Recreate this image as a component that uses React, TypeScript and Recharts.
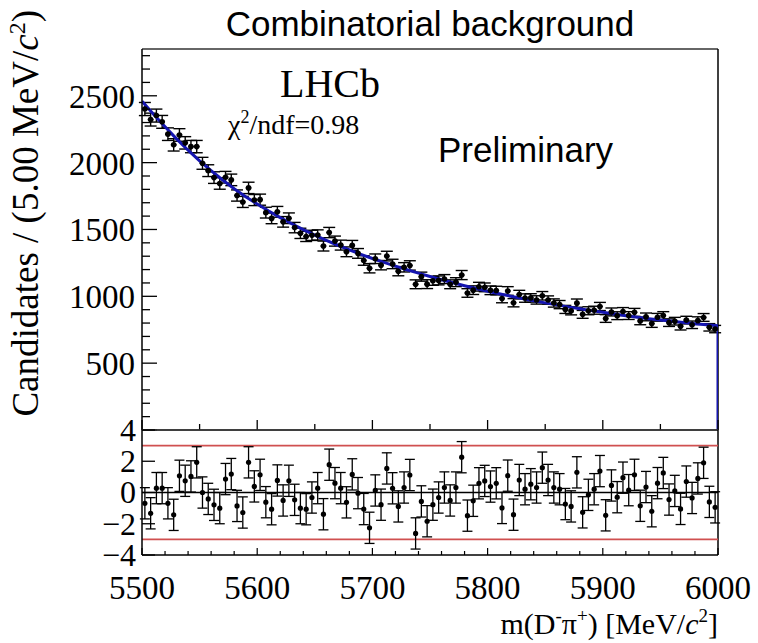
import React from 'react';
import { ComposedChart, Scatter, Line, XAxis, YAxis, ErrorBar, ReferenceLine } from 'recharts';

// ---------------- data ----------------
const BIN_LOW = 5500;
const BIN_WIDTH = 5;

const COUNTS = [
  2401, 2322, 2352, 2305, 2213, 2133, 2207, 2148, 2120, 2120,
  1995, 1940, 1888, 1844, 1891, 1871, 1754, 1706, 1811, 1720,
  1723, 1626, 1583, 1632, 1557, 1584, 1514, 1471, 1448, 1456,
  1459, 1376, 1477, 1413, 1383, 1333, 1381, 1321, 1268, 1210,
  1281, 1233, 1301, 1242, 1188, 1217, 1231, 1090, 1147, 1091,
  1116, 1119, 1129, 1090, 1106, 1159, 1025, 1046, 1072, 1067,
  1045, 1043, 983, 1040, 952, 1013, 987, 988, 973, 1004,
  972, 950, 938, 902, 891, 949, 865, 892, 896, 924,
  834, 883, 855, 886, 856, 880, 816, 846, 796, 843,
  856, 803, 814, 776, 822, 787, 818, 842, 768, 755,
];

const PULLS = [
  -0.69, -1.33, 0.28, 0.28, -0.69, -1.43, 1.07, 0.75, 1.03, 1.93,
  0.0, -0.41, -0.79, -1.0, 0.86, 1.18, -0.86, -1.28, 1.93, 0.39,
  1.13, -0.62, -1.07, 0.77, -0.51, 0.75, -0.47, -1.0, -1.07, -0.32,
  0.28, -1.39, 1.78, 0.6, 0.28, -0.63, 1.16, -0.04, -1.06, -2.26,
  0.13, -0.78, 1.54, 0.27, -0.89, 0.32, 1.12, -2.62, -0.57, -1.84,
  -0.78, -0.32, 0.32, -0.51, 0.32, 2.26, -1.48, -0.53, 0.59, 0.74,
  0.38, 0.59, -0.99, 1.08, -1.42, 0.8, 0.21, 0.53, 0.32, 1.59,
  0.8, 0.32, 0.21, -0.74, -0.89, 1.29, -1.27, -0.15, 0.21, 1.37,
  -1.46, 0.45, -0.3, 0.95, 0.15, 1.13, -0.85, 0.35, -1.2, 0.6,
  1.25, -0.45, 0.1, -1.05, 0.7, -0.35, 0.9, 1.9, -0.6, -0.95,
];

const FIT_MASS = [
  5500, 5510, 5520, 5530, 5540, 5550, 5560, 5570, 5580, 5590,
  5600, 5610, 5620, 5630, 5640, 5650, 5660, 5670, 5680, 5690,
  5700, 5710, 5720, 5730, 5740, 5750, 5760, 5770, 5780, 5790,
  5800, 5810, 5820, 5830, 5840, 5850, 5860, 5870, 5880, 5890,
  5900, 5910, 5920, 5930, 5940, 5950, 5960, 5970, 5980, 5990,
  6000, 6000,
];
const FIT_VALUES = [
  2460, 2362, 2268, 2178, 2093, 2013, 1940, 1870, 1805, 1745,
  1690, 1638, 1589, 1543, 1499, 1458, 1419, 1382, 1347, 1314,
  1283, 1254, 1226, 1199, 1173, 1148, 1124, 1101, 1079, 1058,
  1038, 1019, 1001, 984, 967, 951, 936, 921, 907, 893,
  880, 867, 855, 844, 833, 823, 813, 804, 795, 787,
  780, 0,
];

const TOP_Y_TICKS = [
  0, 100, 200, 300, 400, 500, 600, 700, 800, 900, 1000, 1100, 1200, 1300, 1400,
  1500, 1600, 1700, 1800, 1900, 2000, 2100, 2200, 2300, 2400, 2500, 2600, 2700, 2800,
];
const TOP_Y_LABELS = [500, 1000, 1500, 2000, 2500];
const TOP_X_TICKS = [5500, 5550, 5600, 5650, 5700, 5750, 5800, 5850, 5900, 5950, 6000];
const BOTTOM_X_TICKS = [
  5500, 5520, 5540, 5560, 5580, 5600, 5620, 5640, 5660, 5680, 5700, 5720, 5740,
  5760, 5780, 5800, 5820, 5840, 5860, 5880, 5900, 5920, 5940, 5960, 5980, 6000,
];
const X_LABELS = [5500, 5600, 5700, 5800, 5900, 6000];
const PULL_TICKS = [-4, -2, 0, 2, 4];
const PULL_LABELS = ['\u22124', '\u22122', '0', '2', '4'];
const PULL_BAND = 3;

const histPoints = COUNTS.map((n, i) => ({
  m: BIN_LOW + (i + 0.5) * BIN_WIDTH,
  v: n,
  ey: Math.sqrt(n),
  ex: BIN_WIDTH / 2,
}));
const pullPoints = PULLS.map((p, i) => ({
  m: BIN_LOW + (i + 0.5) * BIN_WIDTH,
  v: p,
  ey: 1,
}));
const fitPoints = FIT_MASS.map((m, i) => ({ m, v: FIT_VALUES[i] }));

// ---------------- styling ----------------
const W = 758;
const H = 643;
const LEFT = 142;
const RIGHT = 40;
const SERIF = "'Liberation Serif', 'DejaVu Serif', 'Times New Roman', serif";
const SANS = "'Liberation Sans', Arial, Helvetica, sans-serif";
const BLUE = '#1515b0';
const RED = '#d05050';
const FRAME = '#333';

function TopYTick(props: any) {
  const { x, y, payload } = props;
  const v = payload.value;
  const major = v % 500 === 0;
  return (
    <g>
      <line x1={x} x2={x + (major ? 15 : 8)} y1={y} y2={y} stroke="#000" strokeWidth={1.3} />
      {TOP_Y_LABELS.includes(v) && (
        <text x={x - 7} y={y} dy="0.36em" textAnchor="end" fontFamily={SERIF} fontSize={33} fill="#000">
          {v}
        </text>
      )}
    </g>
  );
}

function TopXTick(props: any) {
  const { x, y, payload } = props;
  const major = payload.value % 100 === 0;
  return <line x1={x} x2={x} y1={y} y2={y - (major ? 10 : 6)} stroke="#000" strokeWidth={1.3} />;
}

function PullYTick(props: any) {
  const { x, y, payload, index } = props;
  const v = payload.value;
  const idx = PULL_TICKS.indexOf(v);
  return (
    <g>
      <line x1={x} x2={x + 13} y1={y} y2={y} stroke="#000" strokeWidth={1.3} />
      <text x={x - 6} y={y} dy="0.34em" textAnchor="end" fontFamily={SERIF} fontSize={32} fill="#000">
        {PULL_LABELS[idx >= 0 ? idx : index]}
      </text>
    </g>
  );
}

function BottomXTick(props: any) {
  const { x, y, payload } = props;
  const v = payload.value;
  const major = v % 100 === 0;
  return (
    <g>
      <line x1={x} x2={x} y1={y} y2={y - (major ? 7 : 4)} stroke="#000" strokeWidth={1.2} />
      {X_LABELS.includes(v) && (
        <text x={x} y={y + 44} textAnchor="middle" fontFamily={SERIF} fontSize={33} fill="#000">
          {v}
        </text>
      )}
    </g>
  );
}

const histDot = (p: any) => <circle cx={p.cx} cy={p.cy} r={2.8} fill="#000" />;
const pullDot = (p: any) => <circle cx={p.cx} cy={p.cy} r={2.6} fill="#000" />;

export default function App() {
  const topH = 450;
  const botTop = 380;
  const botH = H - botTop;
  return (
    <div style={{ position: 'absolute', left: 0, top: 0, width: W, height: H, background: '#fff' }}>
      <div style={{ position: 'absolute', left: 0, top: 0 }}>
        <ComposedChart width={W} height={topH} margin={{ top: 49, right: RIGHT, bottom: 0, left: 0 }}>
          <XAxis
            type="number"
            dataKey="m"
            domain={[5500, 6000]}
            allowDataOverflow
            ticks={TOP_X_TICKS}
            interval={0}
            height={20}
            tickSize={0}
            tickMargin={0}
            tickLine={false}
            tick={<TopXTick />}
            axisLine={{ stroke: FRAME, strokeWidth: 1.5 }}
          />
          <YAxis
            type="number"
            dataKey="v"
            domain={[0, 2850]}
            allowDataOverflow
            ticks={TOP_Y_TICKS}
            interval={0}
            width={LEFT}
            tickSize={0}
            tickMargin={0}
            tickLine={false}
            tick={<TopYTick />}
            axisLine={{ stroke: '#000', strokeWidth: 1.5 }}
          />
          <ReferenceLine y={2850} stroke={FRAME} strokeWidth={1.5} />
          <ReferenceLine x={6000} stroke="#000" strokeWidth={1.5} />
          <Scatter data={histPoints} dataKey="v" isAnimationActive={false} shape={histDot}>
            <ErrorBar dataKey="ey" direction="y" width={6} stroke="#000" strokeWidth={1.4} isAnimationActive={false} />
            <ErrorBar dataKey="ex" direction="x" width={0} stroke="#000" strokeWidth={1.4} isAnimationActive={false} />
          </Scatter>
          <Line
            data={fitPoints}
            dataKey="v"
            type="linear"
            stroke={BLUE}
            strokeWidth={3}
            dot={false}
            activeDot={false}
            isAnimationActive={false}
          />
        </ComposedChart>
      </div>
      <div style={{ position: 'absolute', left: 0, top: botTop }}>
        <ComposedChart width={W} height={botH} margin={{ top: 50, right: RIGHT, bottom: botH - 50 - 125 - 40, left: 0 }}>
          <XAxis
            type="number"
            dataKey="m"
            domain={[5500, 6000]}
            allowDataOverflow
            ticks={BOTTOM_X_TICKS}
            interval={0}
            height={40}
            tickSize={0}
            tickMargin={0}
            tickLine={false}
            tick={<BottomXTick />}
            axisLine={{ stroke: '#000', strokeWidth: 1.5 }}
          />
          <YAxis
            type="number"
            dataKey="v"
            domain={[-4, 4]}
            allowDataOverflow
            ticks={PULL_TICKS}
            interval={0}
            width={LEFT}
            tickSize={0}
            tickMargin={0}
            tickLine={false}
            tick={<PullYTick />}
            axisLine={{ stroke: '#000', strokeWidth: 1.5 }}
          />
          <ReferenceLine y={4} stroke={FRAME} strokeWidth={1.5} />
          <ReferenceLine x={6000} stroke="#000" strokeWidth={1.5} />
          <ReferenceLine y={PULL_BAND} stroke={RED} strokeWidth={1.6} />
          <ReferenceLine y={-PULL_BAND} stroke={RED} strokeWidth={1.6} />
          <ReferenceLine y={0} stroke="#000" strokeWidth={1.5} />
          <Scatter data={pullPoints} dataKey="v" isAnimationActive={false} shape={pullDot}>
            <ErrorBar dataKey="ey" direction="y" width={5} stroke="#000" strokeWidth={1.3} isAnimationActive={false} />
          </Scatter>
        </ComposedChart>
      </div>
      <svg
        width={W}
        height={H}
        style={{ position: 'absolute', left: 0, top: 0, pointerEvents: 'none' }}
      >
        <text x={430} y={36} textAnchor="middle" fontFamily={SANS} fontSize={35} fill="#000">
          Combinatorial background
        </text>
        <text x={280} y={97} fontFamily={SERIF} fontSize={40} fill="#000">
          LHCb
        </text>
        <text x={228} y={134} fontFamily={SERIF} fontSize={28} fill="#000">
          <tspan>χ</tspan>
          <tspan dy={-11} fontSize={18}>2</tspan>
          <tspan dy={11}>/ndf=0.98</tspan>
        </text>
        <text x={438} y={162} fontFamily={SANS} fontSize={35} fill="#000">
          Preliminary
        </text>
        <text
          transform="translate(38, 10) rotate(-90)"
          textAnchor="end"
          fontFamily={SERIF}
          fontSize={37}
          fill="#000"
        >
          <tspan>Candidates / (5.00 MeV/</tspan>
          <tspan fontStyle="italic">c</tspan>
          <tspan dy={-13} fontSize={24}>2</tspan>
          <tspan dy={13}>)</tspan>
        </text>
        <text x={718} y={634} textAnchor="end" fontFamily={SERIF} fontSize={30} fill="#000">
          <tspan>m(D</tspan>
          <tspan dy={-12} fontSize={19}>-</tspan>
          <tspan dy={12}>π</tspan>
          <tspan dy={-12} fontSize={19}>+</tspan>
          <tspan dy={12}>) [MeV/</tspan>
          <tspan fontStyle="italic">c</tspan>
          <tspan dy={-12} fontSize={19}>2</tspan>
          <tspan dy={12}>]</tspan>
        </text>
      </svg>
    </div>
  );
}
